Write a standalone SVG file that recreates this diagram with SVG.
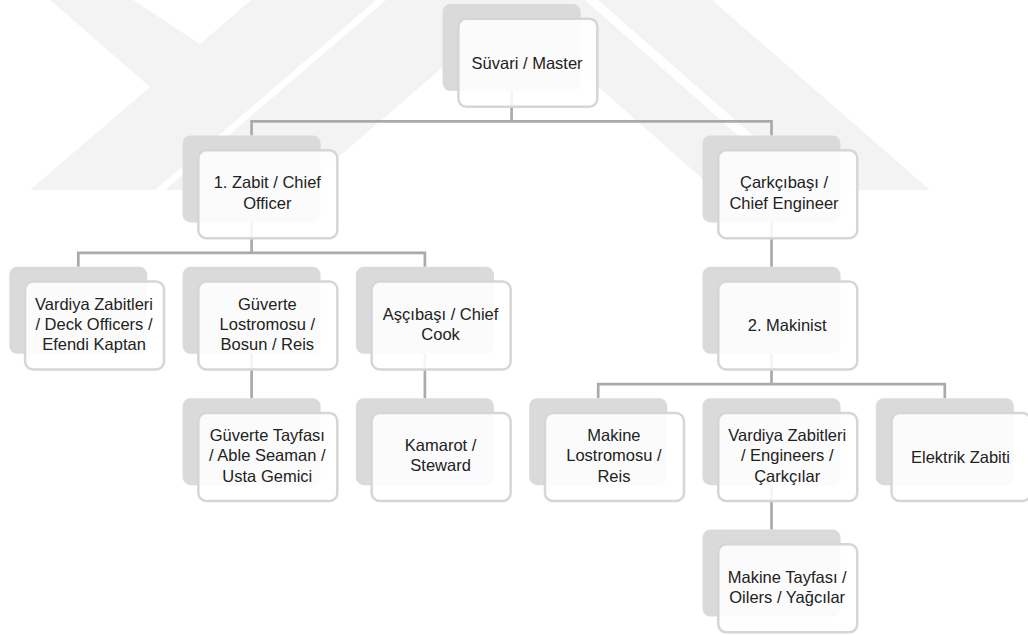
<svg xmlns="http://www.w3.org/2000/svg" width="1028" height="635" viewBox="0 0 1028 635">
<style>
.wm{fill:#f3f3f3}
.back{fill:#dadada}
.front{fill:#ffffff;fill-opacity:0.88;stroke:#d6d6d6;stroke-width:2.5}
.lbl{font-family:"Liberation Sans",Arial,sans-serif;font-size:16.5px;fill:#222;text-anchor:middle}
.conn{fill:none;stroke:#aaaaaa;stroke-width:2.7}
</style>
<rect width="1028" height="635" fill="#ffffff"/>
<g id="watermark">
<polygon class="wm" points="30,190 155,190 376,0 251,0 200,44 133,0 50,0 150,87"/>
<polygon class="wm" points="165,190 300,190 521,0 386,0"/>
<polygon class="wm" points="500,0 585,0 800,190 715,190"/>
<polygon class="wm" points="598,0 712,0 930,190 815,190"/>
</g>
<g id="connectors" class="conn">
<path d="M511.6 91 V121.4 M251.6 135.4 V121.4 H771.5 V135.4"/>
<path d="M251.6 222.4 V252.8 M78.3 266.8 V252.8 H424.9 V266.8"/>
<path d="M771.5 222.4 V266.8"/>
<path d="M771.5 353.8 V384.2 M598.2 398.2 V384.2 H944.8 V398.2"/>
<path d="M251.6 353.8 V398.2"/>
<path d="M424.9 353.8 V398.2"/>
<path d="M771.5 485.2 V529.6"/>
</g>
<g id="master" transform="translate(442.6,4)">
<rect class="back" width="138" height="87" rx="8"/>
<rect class="front" x="15.75" y="14.75" width="139" height="88" rx="8"/>
<text class="lbl" x="84.5" y="64.5">Süvari / Master</text>
</g>
<g id="chief-officer" transform="translate(182.6,135.4)">
<rect class="back" width="138" height="87" rx="8"/>
<rect class="front" x="15.75" y="14.75" width="139" height="88" rx="8"/>
<text class="lbl" x="84.7" y="53">1. Zabit / Chief</text>
<text class="lbl" x="84.7" y="73.3">Officer</text>
</g>
<g id="chief-engineer" transform="translate(702.5,135.4)">
<rect class="back" width="138" height="87" rx="8"/>
<rect class="front" x="15.75" y="14.75" width="139" height="88" rx="8"/>
<text class="lbl" x="81.5" y="53">Çarkçıbaşı /</text>
<text class="lbl" x="81.5" y="73.3">Chief Engineer</text>
</g>
<g id="deck-officers" transform="translate(9.3,266.8)">
<rect class="back" width="138" height="87" rx="8"/>
<rect class="front" x="15.75" y="14.75" width="139" height="88" rx="8"/>
<text class="lbl" x="84.7" y="43">Vardiya Zabitleri</text>
<text class="lbl" x="84.7" y="63.3">/ Deck Officers /</text>
<text class="lbl" x="84.7" y="83.6">Efendi Kaptan</text>
</g>
<g id="bosun" transform="translate(182.6,266.8)">
<rect class="back" width="138" height="87" rx="8"/>
<rect class="front" x="15.75" y="14.75" width="139" height="88" rx="8"/>
<text class="lbl" x="84.7" y="43">Güverte</text>
<text class="lbl" x="84.7" y="63.3">Lostromosu /</text>
<text class="lbl" x="84.7" y="83.6">Bosun / Reis</text>
</g>
<g id="chief-cook" transform="translate(355.9,266.8)">
<rect class="back" width="138" height="87" rx="8"/>
<rect class="front" x="15.75" y="14.75" width="139" height="88" rx="8"/>
<text class="lbl" x="84.7" y="53">Aşçıbaşı / Chief</text>
<text class="lbl" x="84.7" y="73.3">Cook</text>
</g>
<g id="second-engineer" transform="translate(702.5,266.8)">
<rect class="back" width="138" height="87" rx="8"/>
<rect class="front" x="15.75" y="14.75" width="139" height="88" rx="8"/>
<text class="lbl" x="84.7" y="64.5">2. Makinist</text>
</g>
<g id="able-seaman" transform="translate(182.6,398.2)">
<rect class="back" width="138" height="87" rx="8"/>
<rect class="front" x="15.75" y="14.75" width="139" height="88" rx="8"/>
<text class="lbl" x="84.7" y="43">Güverte Tayfası</text>
<text class="lbl" x="84.7" y="63.3">/ Able Seaman /</text>
<text class="lbl" x="84.7" y="83.6">Usta Gemici</text>
</g>
<g id="steward" transform="translate(355.9,398.2)">
<rect class="back" width="138" height="87" rx="8"/>
<rect class="front" x="15.75" y="14.75" width="139" height="88" rx="8"/>
<text class="lbl" x="84.7" y="53">Kamarot /</text>
<text class="lbl" x="84.7" y="73.3">Steward</text>
</g>
<g id="engine-bosun" transform="translate(529.2,398.2)">
<rect class="back" width="138" height="87" rx="8"/>
<rect class="front" x="15.75" y="14.75" width="139" height="88" rx="8"/>
<text class="lbl" x="84.7" y="43">Makine</text>
<text class="lbl" x="84.7" y="63.3">Lostromosu /</text>
<text class="lbl" x="84.7" y="83.6">Reis</text>
</g>
<g id="engineers" transform="translate(702.5,398.2)">
<rect class="back" width="138" height="87" rx="8"/>
<rect class="front" x="15.75" y="14.75" width="139" height="88" rx="8"/>
<text class="lbl" x="84.7" y="43">Vardiya Zabitleri</text>
<text class="lbl" x="84.7" y="63.3">/ Engineers /</text>
<text class="lbl" x="84.7" y="83.6">Çarkçılar</text>
</g>
<g id="electrician" transform="translate(875.8,398.2)">
<rect class="back" width="138" height="87" rx="8"/>
<rect class="front" x="15.75" y="14.75" width="139" height="88" rx="8"/>
<text class="lbl" x="84.7" y="64.5">Elektrik Zabiti</text>
</g>
<g id="oilers" transform="translate(702.5,529.6)">
<rect class="back" width="138" height="87" rx="8"/>
<rect class="front" x="15.75" y="14.75" width="139" height="88" rx="8"/>
<text class="lbl" x="84.7" y="53">Makine Tayfası /</text>
<text class="lbl" x="84.7" y="73.3">Oilers / Yağcılar</text>
</g>
</svg>
